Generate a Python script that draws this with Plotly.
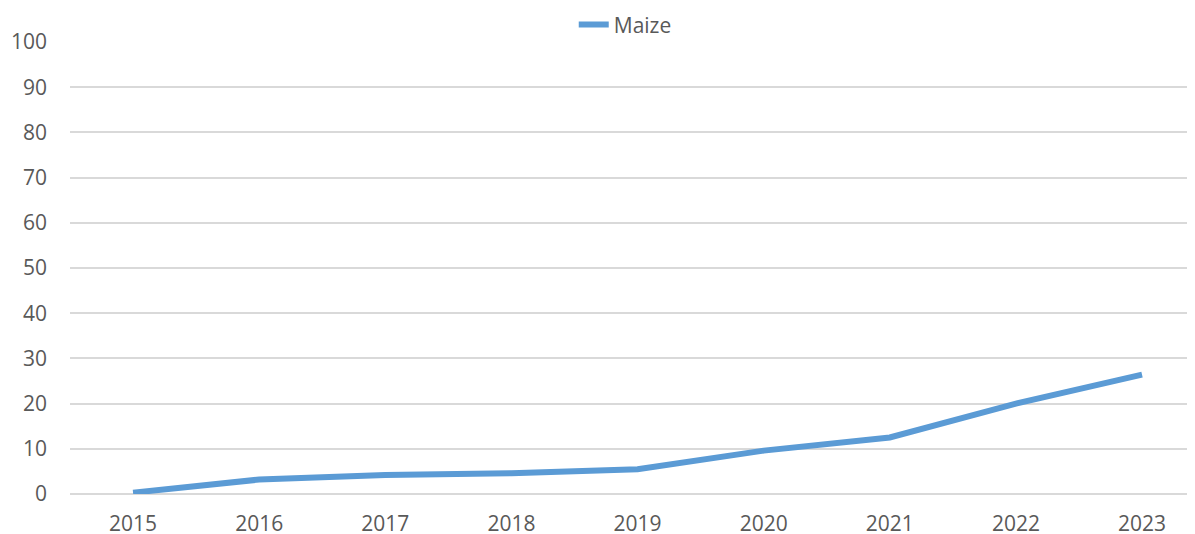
import plotly.graph_objects as go

years = ["2015", "2016", "2017", "2018", "2019", "2020", "2021", "2022", "2023"]
maize = [0.3, 3.2, 4.2, 4.6, 5.5, 9.6, 12.5, 20.0, 26.4]

fig = go.Figure()
fig.add_trace(
    go.Scatter(
        x=years,
        y=maize,
        mode="lines",
        name="Maize",
        line=dict(color="#5B9BD5", width=6),
    )
)

# the page body adds an 8px offset, so the figure is drawn 8px smaller
fig.update_layout(
    width=1187,
    height=526,
    margin=dict(l=62, r=0, t=34, b=40, autoexpand=False),
    paper_bgcolor="white",
    plot_bgcolor="white",
    font=dict(family="Open Sans", size=21, color="#595959"),
    showlegend=True,
    legend=dict(
        orientation="h",
        xref="container",
        yref="container",
        x=0.52,
        y=0.968,
        xanchor="center",
        yanchor="middle",
        font=dict(size=21, color="#595959"),
    ),
)

# the original plot area runs a little past the right edge of the image
fig.update_xaxes(
    type="category",
    range=[-0.5, 8.42],
    showgrid=False,
    showline=False,
    ticks="",
    ticklabelstandoff=15,
    automargin=False,
)

fig.update_yaxes(
    range=[0, 100],
    dtick=10,
    showgrid=True,
    gridcolor="#D9D9D9",
    gridwidth=2,
    zeroline=True,
    zerolinecolor="#D9D9D9",
    zerolinewidth=2,
    showline=False,
    ticks="",
    ticklabelstandoff=22,
    automargin=False,
)

fig.write_html("out.html")
